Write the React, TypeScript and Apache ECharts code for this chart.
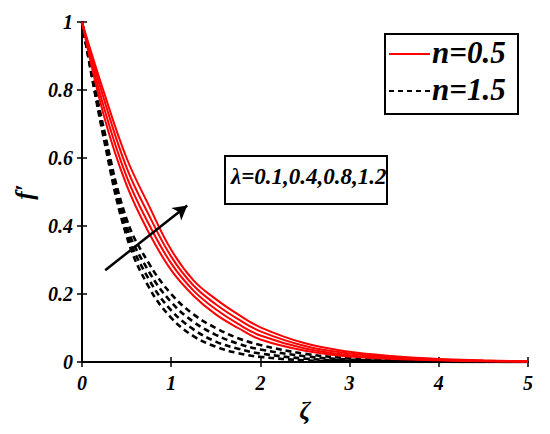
import React, { useEffect, useRef } from "react";
import * as echarts from "echarts";

const zeta = [0, 0.25, 0.5, 0.75, 1, 1.25, 1.5, 1.75, 2, 2.5, 3, 3.5, 4, 4.5, 5];

// n = 0.5 (red solid), lambda = 0.1, 0.4, 0.8, 1.2
const red1 = [1, 0.72, 0.52, 0.38, 0.27, 0.195, 0.14, 0.1, 0.066, 0.033, 0.016, 0.009, 0.005, 0.002, 0.001];
const red2 = [1, 0.745, 0.545, 0.405, 0.29, 0.21, 0.155, 0.112, 0.078, 0.04, 0.02, 0.011, 0.006, 0.003, 0.001];
const red3 = [1, 0.77, 0.572, 0.432, 0.31, 0.225, 0.17, 0.126, 0.09, 0.047, 0.025, 0.014, 0.007, 0.004, 0.002];
const red4 = [1, 0.79, 0.6, 0.46, 0.33, 0.24, 0.185, 0.14, 0.102, 0.055, 0.03, 0.017, 0.009, 0.005, 0.002];

// n = 1.5 (black dashed)
const black1 = [1, 0.65, 0.37, 0.22, 0.13, 0.076, 0.045, 0.026, 0.015, 0.005, 0.002, 0.001, 0, 0, 0];
const black2 = [1, 0.66, 0.385, 0.243, 0.152, 0.096, 0.06, 0.039, 0.025, 0.01, 0.004, 0.002, 0.001, 0, 0];
const black3 = [1, 0.67, 0.4, 0.266, 0.176, 0.118, 0.08, 0.054, 0.037, 0.017, 0.007, 0.003, 0.001, 0, 0];
const black4 = [1, 0.68, 0.42, 0.29, 0.2, 0.14, 0.1, 0.07, 0.05, 0.024, 0.011, 0.005, 0.002, 0.001, 0];

const xTicks = [0, 1, 2, 3, 4, 5];
const yTicks = [0, 0.2, 0.4, 0.6, 0.8, 1];

const arrowStart = [0.26, 0.27];
const arrowEnd = [1.18, 0.46];

const legendNames = ["n=0.5", "n=1.5"];
const lambdaLabel = "λ=0.1,0.4,0.8,1.2";

const FONT = "Liberation Serif";

const pairs = (ys: number[]) => zeta.map((x, i) => [x, ys[i]]);

export default function App() {
  const ref = useRef<HTMLDivElement>(null);
  useEffect(() => {
    if (!ref.current) return;
    const chart = echarts.init(ref.current, undefined, { renderer: "svg" });
    const redSeries = [red1, red2, red3, red4].map((d) => ({
      name: legendNames[0],
      type: "line",
      data: pairs(d),
      smooth: 0.4,
      symbol: "none",
      lineStyle: { color: "#ff0000", width: 2 },
      itemStyle: { color: "#ff0000" },
      z: 3,
    }));
    const blackSeries = [black1, black2, black3, black4].map((d) => ({
      name: legendNames[1],
      type: "line",
      data: pairs(d),
      smooth: 0.4,
      symbol: "none",
      lineStyle: { color: "#000", width: 2.6, type: [6, 4] },
      itemStyle: { color: "#000" },
      z: 2,
    }));
    const arrowSeries = {
      name: "arrow",
      type: "line",
      data: [],
      symbol: "none",
      markLine: {
        silent: true,
        symbol: ["none", "arrow"],
        symbolSize: [12, 14],
        label: { show: false },
        lineStyle: { color: "#000", width: 2.5, type: "solid" },
        data: [[{ coord: arrowStart }, { coord: arrowEnd }]],
      },
      z: 5,
    };
    const labelStyle = {
      color: "#000",
      fontFamily: FONT,
      fontStyle: "italic",
      fontWeight: "bold",
      fontSize: 20,
    };
    const bigText = { fill: "#000", fontFamily: FONT, fontStyle: "italic", fontWeight: "bold", fontSize: 31 };
    chart.setOption({
      animation: false,
      backgroundColor: "#fff",
      grid: { left: 82, right: 22, top: 22, bottom: 72, show: false },
      xAxis: [
        {
          type: "value",
          min: 0,
          max: 5,
          interval: 1,
          name: "ζ",
          nameLocation: "middle",
          nameGap: 34,
          nameTextStyle: { color: "#000", fontFamily: FONT, fontStyle: "italic", fontWeight: "bold", fontSize: 25 },
          axisLine: { show: true, lineStyle: { color: "#000", width: 2 } },
          axisTick: { show: true, inside: true, length: 5, lineStyle: { color: "#000", width: 1.5 } },
          axisLabel: { ...labelStyle, margin: 11, formatter: (v: number) => (xTicks.includes(v) ? String(v) : "") },
          splitLine: { show: false },
        },
        {
          type: "value",
          position: "top",
          min: 0,
          max: 5,
          interval: 1,
          axisLine: { show: true, lineStyle: { color: "#000", width: 2 } },
          axisTick: { show: true, inside: true, length: 5, lineStyle: { color: "#000", width: 1.5 } },
          axisLabel: { show: false },
          splitLine: { show: false },
        },
      ],
      yAxis: [
        {
          type: "value",
          min: 0,
          max: 1,
          interval: 0.2,
          name: "f′",
          nameLocation: "middle",
          nameGap: 44,
          nameRotate: 90,
          nameTextStyle: { color: "#000", fontFamily: FONT, fontStyle: "italic", fontWeight: "bold", fontSize: 25 },
          axisLine: { show: true, lineStyle: { color: "#000", width: 2 } },
          axisTick: { show: true, inside: true, length: 5, lineStyle: { color: "#000", width: 1.5 } },
          axisLabel: {
            ...labelStyle,
            margin: 9,
            formatter: (v: number) => {
              const t = yTicks.find((y) => Math.abs(y - v) < 1e-9);
              return t === undefined ? "" : String(t);
            },
          },
          splitLine: { show: false },
        },
        {
          type: "value",
          position: "right",
          min: 0,
          max: 1,
          interval: 0.2,
          axisLine: { show: true, lineStyle: { color: "#000", width: 2 } },
          axisTick: { show: true, inside: true, length: 5, lineStyle: { color: "#000", width: 1.5 } },
          axisLabel: { show: false },
          splitLine: { show: false },
        },
      ],
      graphic: [
        // legend box
        {
          type: "rect",
          left: 384,
          top: 33,
          shape: { width: 133, height: 80 },
          style: { fill: "#fff", stroke: "#000", lineWidth: 2 },
          z: 10,
        },
        {
          type: "line",
          shape: { x1: 389, y1: 54, x2: 430, y2: 54 },
          style: { stroke: "#ff0000", lineWidth: 2 },
          z: 11,
        },
        {
          type: "text",
          left: 432,
          top: 37,
          style: { text: legendNames[0], ...bigText },
          z: 11,
        },
        {
          type: "line",
          shape: { x1: 389, y1: 91, x2: 430, y2: 91 },
          style: { stroke: "#000", lineWidth: 2.2, lineDash: [5, 4] },
          z: 11,
        },
        {
          type: "text",
          left: 432,
          top: 74,
          style: { text: legendNames[1], ...bigText },
          z: 11,
        },
        // lambda box
        {
          type: "rect",
          left: 224,
          top: 155,
          shape: { width: 162, height: 48 },
          style: { fill: "#fff", stroke: "#000", lineWidth: 2 },
          z: 10,
        },
        {
          type: "text",
          left: 231,
          top: 165,
          style: {
            text: lambdaLabel,
            fill: "#000",
            fontFamily: FONT,
            fontStyle: "italic",
            fontWeight: "bold",
            fontSize: 23,
          },
          z: 11,
        },
      ],
      series: [...blackSeries, ...redSeries, arrowSeries],
    });
    return () => chart.dispose();
  }, []);
  return <div ref={ref} style={{ position: "absolute", left: 0, top: 0, width: 550, height: 434 }} />;
}
